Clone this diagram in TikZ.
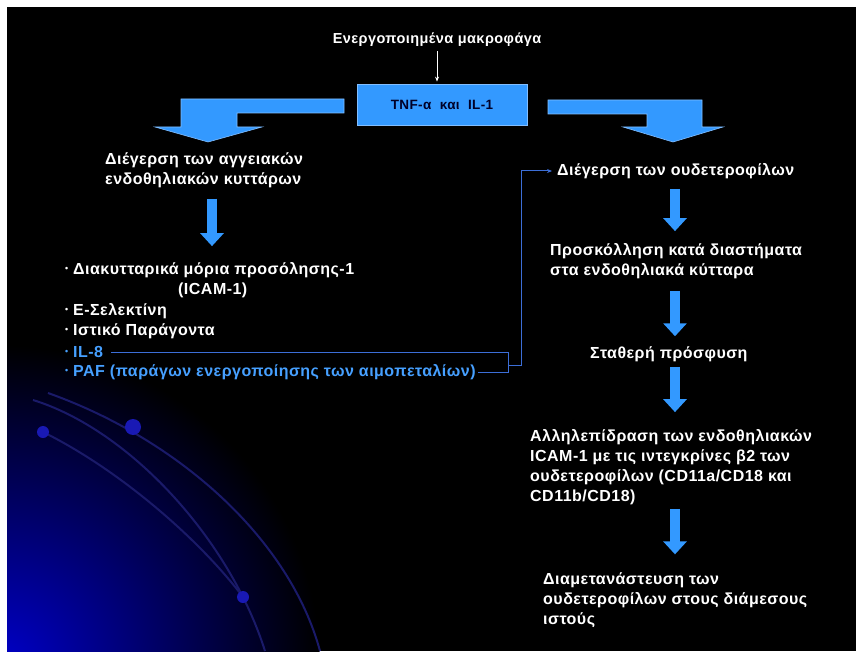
\documentclass[tikz,border=0pt]{standalone}
\usepackage{fontspec}
\setmainfont{Liberation Sans}[LetterSpace=3]
\usepackage{graphicx}
\usetikzlibrary{arrows.meta, positioning}

\definecolor{arrowblue}{RGB}{51,153,255}
\definecolor{edgeblue}{RGB}{130,190,255}
\definecolor{listblue}{RGB}{70,160,255}
\definecolor{linkblue}{RGB}{60,110,215}
\definecolor{arcblue}{RGB}{26,26,105}
\definecolor{dotblue}{RGB}{25,25,180}
\definecolor{glowblue}{RGB}{0,0,200}
\definecolor{tnftext}{RGB}{0,0,40}

\newcommand{\dotmark}{\raisebox{0.3ex}{\scalebox{0.55}{•}}\ }

\tikzset{
  txt/.style={text=white, font=\fontsize{16}{20}\selectfont\bfseries, anchor=west, align=left, inner sep=0pt},
  bluetxt/.style={txt, text=listblue},
  tnfbox/.style={fill=arrowblue, draw=edgeblue, line width=0.8pt, minimum width=170pt, minimum height=41pt, text=tnftext, font=\fontsize{13.5}{15}\selectfont\bfseries},
  fatarrow/.style={arrowblue, line width=10pt, -{Triangle[width=23pt,length=13pt]}},
  bigarrow/.style={fill=arrowblue, draw=edgeblue, line width=0.6pt},
  link/.style={linkblue, line width=1pt},
}

\begin{document}
\begin{tikzpicture}[x=1pt, y=-1pt]
			% Slide background
			\fill[white] (0,0) rectangle (856,651);
			\fill[black] (7,7) rectangle (856,651);
			\begin{scope}
				\clip (7,7) rectangle (856,651);
				\shade[inner color=glowblue, outer color=black] (0,665) circle (320);
			\end{scope}
			
			% Decorative arcs and dots
			\draw[arcblue, line width=2pt] (48,393) .. controls (180,440) and (290,540) .. (320,651);
			\draw[arcblue, line width=2pt] (33,400) .. controls (130,430) and (230,540) .. (265,651);
			\draw[arcblue, line width=2pt] (43,432) .. controls (120,470) and (200,540) .. (243,597);
			\fill[dotblue] (43,432) circle (6);
			\fill[dotblue] (133,427) circle (8);
			\fill[dotblue] (243,597) circle (6);
			
			% Top: macrophages and cytokines
			\node[txt, anchor=center, font=\fontsize{14.5}{18}\selectfont\bfseries] (macro) at (437,40) {Ενεργοποιημένα μακροφάγα};
			\node[tnfbox] (tnf) at (442,104.5) {TNF-α\ \ και\ \ IL-1};
			\draw[white, line width=0.8pt, -{Stealth[length=5pt,width=4pt]}, shorten <=4pt, shorten >=2pt] (macro.south) -- (macro.south |- tnf.north);
			
			% Bent block arrows
			\filldraw[bigarrow] (344,99) -- (181,99) -- (181,127) -- (155,127) -- (208,142) -- (262,127) -- (237,127) -- (237,113) -- (344,113) -- cycle;
			\filldraw[bigarrow] (548,100) -- (702,100) -- (702,127) -- (723,127) -- (673,142) -- (623,127) -- (647,127) -- (647,114) -- (548,114) -- cycle;
			
			% Left column
			\node[txt] (vasc) at (105,170) {Διέγερση των αγγειακών\\ενδοθηλιακών κυττάρων};
			\node[txt] (icam) at (65,270) {\dotmark Διακυτταρικά μόρια προσόλησης-1};
			\node[txt] (icamb) at (178,290) {(ICAM-1)};
			\node[txt] (esel) at (65,311) {\dotmark Ε-Σελεκτίνη};
			\node[txt] (tf) at (65,331) {\dotmark Ιστικό Παράγοντα};
			\node[bluetxt] (il8) at (65,352) {\dotmark IL-8};
			\node[bluetxt] (paf) at (65,372) {\dotmark PAF (παράγων ενεργοποίησης των αιμοπεταλίων)};
			
			\coordinate (lc) at (212,0);
			\draw[fatarrow, shorten <=11pt, shorten >=16pt] (vasc.south -| lc) -- (icam.north -| lc);
			
			% Right column
			\node[txt] (neut) at (557,171) {Διέγερση των ουδετεροφίλων};
			\node[txt] (adh) at (550,261) {Προσκόλληση κατά διαστήματα\\στα ενδοθηλιακά κύτταρα};
			\node[txt] (firm) at (590,354) {Σταθερή πρόσφυση};
			\node[txt] (inter) at (530,467) {Αλληλεπίδραση των ενδοθηλιακών\\ICAM-1 με τις ιντεγκρίνες β2 των\\ουδετεροφίλων (CD11a/CD18 και\\CD11b/CD18)};
			\node[txt] (trans) at (543,600) {Διαμετανάστευση των\\ουδετεροφίλων στους διάμεσους\\ιστούς};
			
			\coordinate (rc) at (675,0);
			\draw[fatarrow, shorten <=10pt, shorten >=12pt] (neut.south -| rc) -- (adh.north -| rc);
			\draw[fatarrow, shorten <=12pt, shorten >=10pt] (adh.south -| rc) -- (firm.north -| rc);
			\draw[fatarrow, shorten <=5pt, shorten >=17pt] (firm.south -| rc) -- (inter.north -| rc);
			\draw[fatarrow, shorten <=4pt, shorten >=18pt] (inter.south -| rc) -- (trans.north -| rc);
			
			% IL-8 and PAF feed the neutrophils
			\coordinate (brk) at (508,365);
			\coordinate (rise) at (521,365);
			\draw[link] ([xshift=8pt]il8.east) -- (il8.east -| brk) -- (paf.east -| brk) -- ([xshift=2pt]paf.east);
			\draw[link, -{Stealth[length=5pt,width=4pt]}] (brk) -- (rise) |- ([xshift=-5pt]neut.west);
			
		\end{tikzpicture}
\end{document}
